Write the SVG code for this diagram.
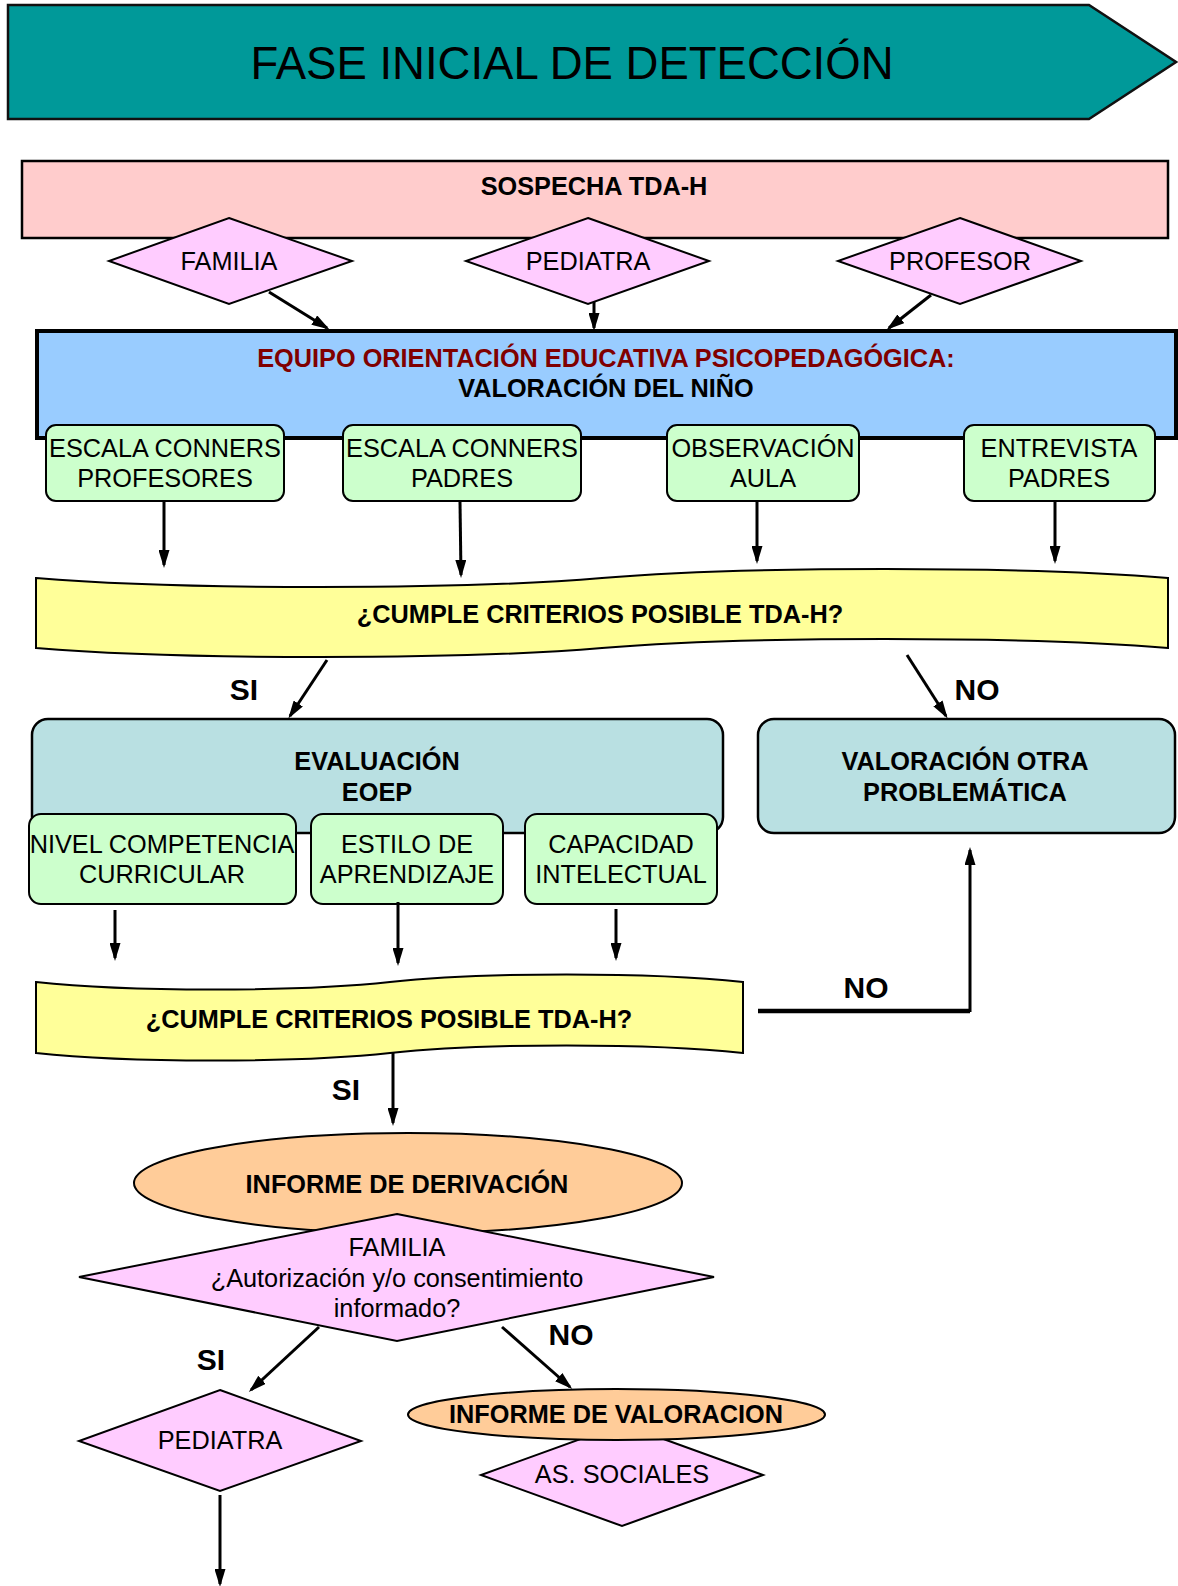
<svg xmlns="http://www.w3.org/2000/svg" width="1178" height="1586" viewBox="0 0 1178 1586">
<defs>
<marker id="ah" markerUnits="userSpaceOnUse" markerWidth="18" markerHeight="11" refX="15" refY="5.5" orient="auto">
<path d="M0,0 L18,5.5 L0,11 z" fill="#000"/>
</marker>
<style>
text{font-family:"Liberation Sans",Arial,sans-serif;fill:#000;text-anchor:middle}
.t{font-size:25.3px}
.b{font-size:25.3px;font-weight:bold}
.lbl{font-size:30px;font-weight:bold}
.dia{fill:#FFCCFF;stroke:#000;stroke-width:2}
.grn{fill:#CCFFCC;stroke:#000;stroke-width:2}
.tape{fill:#FFFF99;stroke:#000;stroke-width:2}
.teal{fill:#B9E0E2;stroke:#000;stroke-width:2.5}
.orn{fill:#FFCC99;stroke:#000;stroke-width:2}
.c{stroke:#000;stroke-width:3;fill:none}
</style>
</defs>
<rect width="1178" height="1586" fill="#fff"/>

<g id="header">
<path d="M8,5 L1089,5 L1176,62 L1089,119 L8,119 Z" fill="#009999" stroke="#111" stroke-width="2.5"/>
<text x="572" y="79" style="font-size:45.5px">FASE INICIAL DE DETECCIÓN</text>
</g>

<g id="sospecha">
<rect x="22" y="161" width="1146" height="77" fill="#FFCCCC" stroke="#000" stroke-width="2.5"/>
<text class="b" x="594" y="195">SOSPECHA TDA-H</text>
</g>

<g id="d-familia">
<polygon class="dia" points="229,218 352,261 229,304 109,261"/>
<text class="t" x="229" y="270">FAMILIA</text>
</g>
<g id="d-pediatra">
<polygon class="dia" points="588,218 709,261 588,304 466,261"/>
<text class="t" x="588" y="270">PEDIATRA</text>
</g>
<g id="d-profesor">
<polygon class="dia" points="960,218 1081,261 960,304 838,261"/>
<text class="t" x="960" y="270">PROFESOR</text>
</g>

<g id="eoep">
<rect x="37" y="331" width="1139" height="107" fill="#99CCFF" stroke="#000" stroke-width="4"/>
<text class="b" x="606" y="367" style="fill:#800000">EQUIPO ORIENTACIÓN EDUCATIVA PSICOPEDAGÓGICA:</text>
<text class="b" x="606" y="397">VALORACIÓN DEL NIÑO</text>
</g>

<g id="g-conners-prof">
<rect class="grn" x="46" y="425" width="238" height="76" rx="10"/>
<text class="t" x="165" y="457">ESCALA CONNERS</text>
<text class="t" x="165" y="487">PROFESORES</text>
</g>
<g id="g-conners-padres">
<rect class="grn" x="343" y="425" width="238" height="76" rx="10"/>
<text class="t" x="462" y="457">ESCALA CONNERS</text>
<text class="t" x="462" y="487">PADRES</text>
</g>
<g id="g-observacion">
<rect class="grn" x="667" y="425" width="192" height="76" rx="10"/>
<text class="t" x="763" y="457">OBSERVACIÓN</text>
<text class="t" x="763" y="487">AULA</text>
</g>
<g id="g-entrevista">
<rect class="grn" x="964" y="425" width="191" height="76" rx="10"/>
<text class="t" x="1059" y="457">ENTREVISTA</text>
<text class="t" x="1059" y="487">PADRES</text>
</g>

<g id="tape1">
<path class="tape" d="M36,578 C180,590 460,590 602,578 C744,566 1026,566 1168,578 L1168,648 C1026,636 744,636 602,648 C460,660 180,660 36,648 Z"/>
<text class="b" x="600" y="623">¿CUMPLE CRITERIOS POSIBLE TDA-H?</text>
</g>

<g id="evaluacion">
<rect class="teal" x="32" y="719" width="691" height="114" rx="16"/>
<text class="b" x="377" y="770">EVALUACIÓN</text>
<text class="b" x="377" y="801">EOEP</text>
</g>

<g id="valoracion-otra">
<rect class="teal" x="758" y="719" width="417" height="114" rx="16"/>
<text class="b" x="965" y="770">VALORACIÓN OTRA</text>
<text class="b" x="965" y="801">PROBLEMÁTICA</text>
</g>

<g id="g-nivel">
<rect class="grn" x="29" y="814" width="267" height="90" rx="12"/>
<text class="t" x="162" y="853">NIVEL COMPETENCIA</text>
<text class="t" x="162" y="883">CURRICULAR</text>
</g>
<g id="g-estilo">
<rect class="grn" x="311" y="814" width="192" height="90" rx="12"/>
<text class="t" x="407" y="853">ESTILO DE</text>
<text class="t" x="407" y="883">APRENDIZAJE</text>
</g>
<g id="g-capacidad">
<rect class="grn" x="525" y="814" width="192" height="90" rx="12"/>
<text class="t" x="621" y="853">CAPACIDAD</text>
<text class="t" x="621" y="883">INTELECTUAL</text>
</g>

<g id="tape2">
<path class="tape" d="M36,982 C127,992 298,992 390,982 C481,972 652,972 743,982 L743,1053 C652,1043 481,1043 390,1053 C298,1063 127,1063 36,1053 Z"/>
<text class="b" x="389" y="1028">¿CUMPLE CRITERIOS POSIBLE TDA-H?</text>
</g>

<g id="informe-derivacion">
<ellipse class="orn" cx="408" cy="1183" rx="274" ry="50"/>
<text class="b" x="407" y="1193">INFORME DE DERIVACIÓN</text>
</g>

<g id="d-familia-autorizacion">
<polygon class="dia" points="397,1214 714,1277 397,1341 79,1277"/>
<text class="t" x="397" y="1256">FAMILIA</text>
<text class="t" x="397" y="1287">¿Autorización y/o consentimiento</text>
<text class="t" x="397" y="1317">informado?</text>
</g>

<g id="d-pediatra2">
<polygon class="dia" points="220,1390 361,1441 220,1491 79,1441"/>
<text class="t" x="220" y="1449">PEDIATRA</text>
</g>

<g id="d-as-sociales">
<polygon class="dia" points="622,1424 763,1475 622,1526 481,1475"/>
<text class="t" x="622" y="1483">AS. SOCIALES</text>
</g>

<g id="informe-valoracion">
<ellipse class="orn" cx="616.5" cy="1414.5" rx="208.5" ry="25.5"/>
<text class="b" x="616" y="1423">INFORME DE VALORACION</text>
</g>

<g id="connectors">
<line class="c" x1="269" y1="292" x2="327" y2="328" marker-end="url(#ah)"/>
<line class="c" x1="594" y1="302" x2="594" y2="328" marker-end="url(#ah)"/>
<line class="c" x1="931" y1="295" x2="889" y2="328" marker-end="url(#ah)"/>
<line class="c" x1="164" y1="502" x2="164" y2="565" marker-end="url(#ah)"/>
<line class="c" x1="460" y1="502" x2="461" y2="575" marker-end="url(#ah)"/>
<line class="c" x1="757" y1="502" x2="757" y2="561" marker-end="url(#ah)"/>
<line class="c" x1="1055" y1="502" x2="1055" y2="561" marker-end="url(#ah)"/>
<line class="c" x1="327" y1="660" x2="290" y2="716" marker-end="url(#ah)"/>
<line class="c" x1="907" y1="655" x2="946" y2="716" marker-end="url(#ah)"/>
<line class="c" x1="115" y1="910" x2="115" y2="958" marker-end="url(#ah)"/>
<line class="c" x1="398" y1="902" x2="398" y2="963" marker-end="url(#ah)"/>
<line class="c" x1="616" y1="909" x2="616" y2="958" marker-end="url(#ah)"/>
<path d="M758,1011 L970,1011" stroke="#000" stroke-width="4.5" fill="none"/>
<line class="c" x1="970" y1="1012" x2="970" y2="850" marker-end="url(#ah)"/>
<line class="c" x1="393" y1="1053" x2="393" y2="1123" marker-end="url(#ah)"/>
<line class="c" x1="319" y1="1327" x2="251" y2="1390" marker-end="url(#ah)"/>
<line class="c" x1="502" y1="1327" x2="570" y2="1387" marker-end="url(#ah)"/>
<line class="c" x1="220" y1="1495" x2="220" y2="1584" marker-end="url(#ah)"/>
</g>

<g id="labels">
<text class="lbl" x="244" y="700">SI</text>
<text class="lbl" x="977" y="700">NO</text>
<text class="lbl" x="866" y="998">NO</text>
<text class="lbl" x="346" y="1100">SI</text>
<text class="lbl" x="211" y="1370">SI</text>
<text class="lbl" x="571" y="1345">NO</text>
</g>
</svg>
